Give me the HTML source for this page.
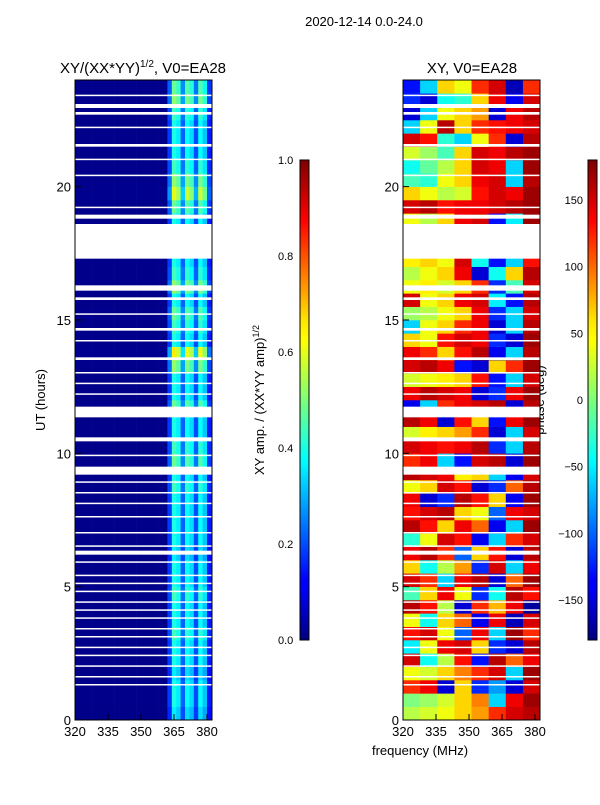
<!DOCTYPE html>
<html><head><meta charset="utf-8"><style>
body{margin:0;background:#fff;font-family:"Liberation Sans",sans-serif;}
svg text{font-family:"Liberation Sans",sans-serif;fill:#000;}
</style></head><body>
<svg id="fig" width="600" height="800" xmlns="http://www.w3.org/2000/svg">
<text x="364" y="26" font-size="13" text-anchor="middle">2020-12-14 0.0-24.0</text>
<text x="143" y="73" font-size="15" text-anchor="middle">XY/(XX*YY)<tspan font-size="10" dy="-6">1/2</tspan><tspan dy="6">, V0=EA28</tspan></text>
<text x="472" y="73" font-size="15" text-anchor="middle">XY, V0=EA28</text>
<text transform="translate(45,400) rotate(-90)" font-size="13" text-anchor="middle">UT (hours)</text>
<text x="420" y="755" font-size="13" text-anchor="middle">frequency (MHz)</text>
<text transform="translate(264,400) rotate(-90)" font-size="13" text-anchor="middle">XY amp. / (XX*YY amp)<tspan font-size="9" dy="-5">1/2</tspan></text>
<text transform="translate(544,400) rotate(-90)" font-size="13" text-anchor="middle">phase (deg)</text>
<g id="ampG"></g>
<g id="phG"></g>
<g id="axG"></g>
<defs><linearGradient id="jet" x1="0" y1="1" x2="0" y2="0">
<stop offset="0" stop-color="#00007f"/><stop offset="0.11" stop-color="#0000ff"/><stop offset="0.125" stop-color="#0000ff"/><stop offset="0.34" stop-color="#00dcff"/><stop offset="0.375" stop-color="#00ffff"/><stop offset="0.5" stop-color="#7dff7a"/><stop offset="0.625" stop-color="#ffff00"/><stop offset="0.66" stop-color="#ffea00"/><stop offset="0.875" stop-color="#ff0000"/><stop offset="1" stop-color="#7f0000"/></linearGradient></defs>
<rect x="300" y="160" width="9" height="480" fill="url(#jet)" stroke="#000" stroke-width="1"/>
<rect x="588" y="160" width="9" height="480" fill="url(#jet)" stroke="#000" stroke-width="1"/>
</svg>
<script>
const hours=[0,5,10,15,20];
const freqTicks=[320,335,350,365,380];
const ampTicks=[0.0,0.2,0.4,0.6,0.8,1.0];
const phaseTicks=[-150,-100,-50,0,50,100,150];
const ampColProfile=[0.01,0.01,0.01,0.01,0.01,0.01,0.01,0.01,0.01,0.01,0.01,0.01,0.01,0.01,0.01,0.01,0.01,0.01,0.01,0.01,0.01,0.18,0.4,0.36,0.22,0.38,0.34,0.2,0.38,0.32,0.15];
const ampRowGain=[0.9,1.0,1.0,0.9,1.0,1.0,1.1,1.0,1.0,1.1,1.0,1.0,0.9,1.0,1.0,1.0,1.0,1.1,1.0,1.2,1.1,1.0,1.0,1.2,1.0,1.0,1.3,1.6,1.0,1.1,1.2,1.0,1.3,1.1,1.0,1.0,1.0,1.0,1.2,1.5,1.3,1.1,1.0,1.0,1.0,1.1,1.3,1.2];
const phaseVals=[
[20,30,40,60,80,120,150,160],[0,10,30,60,90,-60,140,170],[120,140,-150,60,-120,-80,-150,150],[40,30,60,90,120,150,-60,170],
[150,-40,20,130,-130,160,100,140],[-50,40,140,150,60,-120,-150,160],[130,150,40,-100,140,-60,170,120],[40,-40,60,100,-140,140,-160,150],
[160,130,20,-150,120,70,140,-170],[-20,60,140,40,-120,-40,160,130],[150,120,-60,140,160,-150,100,170],[60,-40,20,80,-120,150,-60,140],
[140,160,120,-100,60,130,-150,160],[-30,40,150,130,-140,-60,120,150],[160,130,60,140,100,-140,-60,170],[130,150,160,60,40,-100,140,150],
[140,-150,-120,160,130,60,-140,170],[40,60,150,130,-150,-120,100,160],[160,150,140,50,60,-60,-140,150],[120,140,-60,-130,150,160,-150,170],
[150,140,130,140,160,-120,-60,160],[30,50,60,80,120,-150,-60,150],[160,140,-150,130,60,-130,140,170],[-140,-60,120,140,150,160,-150,160],
[140,160,150,140,-150,-120,140,170],[30,40,50,60,130,-130,-60,150],[150,160,140,-130,-150,60,120,170],[140,120,60,130,160,-140,-60,160],
[60,40,130,150,140,-120,-150,170],[-60,40,60,120,140,-150,-60,160],[10,20,40,60,140,-120,-60,150],[150,40,60,140,150,-50,-130,160],
[40,50,30,60,120,-120,-20,150],[20,40,60,140,-150,-40,60,160],[50,60,40,150,-40,-130,-60,130],[40,60,120,140,-130,-40,30,150],
[20,-30,60,80,130,-50,-20,160],[40,20,60,140,150,-130,-50,170],[150,160,130,140,140,150,160,170],[60,40,20,30,130,150,140,170],
[-20,-30,40,60,140,150,-60,160],[-40,-10,20,60,150,140,-60,170],[30,10,-20,60,150,140,160,170],[150,130,-30,-60,40,120,-150,160],
[-60,40,160,60,120,130,140,150],[-150,-60,40,60,80,-150,140,160],[-120,-150,-40,-30,60,140,-140,150],[-130,-60,60,40,120,150,-160,120]];
const gaps=[[17.3,18.6],[11.35,11.75],[10.45,10.6],[9.2,9.5],[16.1,16.3],[15.75,15.85],[18.8,18.95],[19.2,19.25],[21.5,21.6],[22.7,22.8],[22.95,23.1],[14.6,14.7],[13.5,13.6],[12.6,12.65],[7.0,7.05],[8.9,8.95],[8.5,8.55],[8.1,8.15],[7.6,7.65],[6.5,6.55],[6.2,6.35],[5.9,5.95],[5.4,5.45],[5.1,5.15],[4.8,4.85],[4.4,4.45],[4.1,4.15],[3.8,3.85],[3.4,3.45],[3.1,3.15],[2.7,2.75],[2.4,2.45],[2.0,2.05],[1.6,1.65],[1.3,1.35],[20.4,20.45],[21.0,21.05],[22.2,22.25],[23.4,23.45],[14.2,14.25],[15.2,15.25],[12.2,12.25],[13.0,13.05],[9.9,9.95]];
const NS='http://www.w3.org/2000/svg';
const yScale=h=>720-(h/24)*640;
const xL=f=>75+(f-320)*2.2, xR=f=>403+(f-320)*2.2;
function jet(v){v=Math.max(0,Math.min(1,v));
 const r=Math.min(4*v-1.5,-4*v+4.5),g=Math.min(4*v-0.5,-4*v+3.5),b=Math.min(4*v+0.5,-4*v+2.5);
 const c=x=>Math.round(255*Math.max(0,Math.min(1,x)));return `rgb(${c(r)},${c(g)},${c(b)})`;}
function mk(tag,attrs,parent){const e=document.createElementNS(NS,tag);for(const k in attrs)e.setAttribute(k,attrs[k]);parent.appendChild(e);return e;}
const ampG=document.getElementById('ampG'),phG=document.getElementById('phG'),axG=document.getElementById('axG');
const nR=ampRowGain.length;
for(let r=0;r<nR;r++){const h0=r*24/nR,h1=(r+1)*24/nR;
 for(let c=0;c<ampColProfile.length;c++){const f0=320+c*2,f1=f0+2;
  const e=mk('rect',{x:xL(f0),y:yScale(h1),width:xL(Math.min(f1,382.3))-xL(f0)+0.3,height:yScale(h0)-yScale(h1)+0.3,fill:jet(ampColProfile[c]*ampRowGain[r])},ampG);
  
  }
}
const nP=phaseVals.length,nC=phaseVals[0].length,fw=62.3/nC;
for(let r=0;r<nP;r++){const h0=r*24/nP,h1=(r+1)*24/nP;
 for(let c=0;c<nC;c++){const f0=320+c*fw;
  const e=mk('rect',{x:xR(f0),y:yScale(h1),width:fw*2.2+0.3,height:yScale(h0)-yScale(h1)+0.3,fill:jet((phaseVals[r][c]+180)/360)},phG);
  
  }
}
for(const [a,b] of gaps){for(const x0 of [75,403]){
 const e=mk('rect',{x:x0,y:yScale(b),width:137,height:Math.max(1.5,yScale(a)-yScale(b)),fill:'#fff'},axG);
 
 }}
for(const x0 of [75,403]){
 const fr=mk('rect',{x:x0,y:80,width:137,height:640,fill:'none',stroke:'#000','stroke-width':1},axG);
 
 
 const xs=x0===75?xL:xR;
 for(const f of freqTicks){const x=xs(f);
  mk('line',{x1:x,x2:x,y1:720,y2:714,stroke:'#000'},axG);
  const t=mk('text',{x:x,y:736,'font-size':13,'text-anchor':'middle'},axG);t.textContent=f;
  
  }
 for(const h of hours){const y=yScale(h);
  mk('line',{x1:x0,x2:x0+6,y1:y,y2:y,stroke:'#000'},axG);
  const t=mk('text',{x:x0-4,y:y+5,'font-size':13,'text-anchor':'end'},axG);t.textContent=h;
  
  }
}
for(const v of ampTicks){const y=640-v*480;
 mk('line',{x1:305,x2:309,y1:y,y2:y,stroke:'#000'},axG);
 const t=mk('text',{x:278,y:y+4,'font-size':11},axG);t.textContent=v.toFixed(1);
 
 }
for(const v of phaseTicks){const y=400-v*480/360;
 mk('line',{x1:593,x2:597,y1:y,y2:y,stroke:'#000'},axG);
 const t=mk('text',{x:583,y:y+4,'font-size':11,'text-anchor':'end'},axG);t.textContent=v<0?'\u2212'+(-v):v;
 
 }
</script>
</body></html>
